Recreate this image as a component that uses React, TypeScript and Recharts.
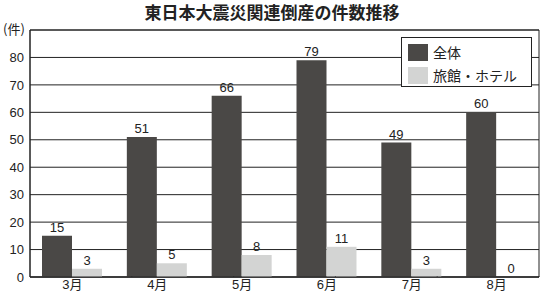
import { BarChart, Bar, XAxis, YAxis, CartesianGrid, LabelList, ReferenceArea, ReferenceLine } from 'recharts'

const months = ['3月', '4月', '5月', '6月', '7月', '8月']
const totalCounts = [15, 51, 66, 79, 49, 60]
const hotelCounts = [3, 5, 8, 11, 3, 0]
const yTicks = [0, 10, 20, 30, 40, 50, 60, 70, 80]
const boundaryTicks = [1, 2, 3, 4, 5]

const TITLE = '東日本大震災関連倒産の件数推移'
const UNIT = '(件)'
const SERIES = [
  { key: 'total', name: '全体', color: '#4a4846' },
  { key: 'hotel', name: '旅館・ホテル', color: '#d3d4d3' },
]

const FONT = "'Liberation Sans', 'Noto Sans CJK JP', sans-serif"
const JP = "'Noto Sans CJK JP', sans-serif"

const data = months.map((m, i) => ({ month: m, total: totalCounts[i], hotel: hotelCounts[i] }))

// value above each bar, always dark
const renderValue = (p: any) => (
  <text
    x={Number(p.x) + Number(p.width) / 2}
    y={Number(p.y) - 4}
    textAnchor="middle"
    fill="#222"
    fontSize={13}
    fontFamily={FONT}
  >
    {p.value}
  </text>
)

function LegendBox() {
  return (
    <div
      style={{
        position: 'absolute',
        left: 401,
        top: 37,
        border: '1px solid #222',
        background: '#fff',
        width: 131,
        height: 50,
        boxSizing: 'border-box',
        padding: '4px 0 0 6px',
        fontFamily: JP,
        fontSize: 14,
        color: '#222',
      }}
    >
      {SERIES.map((s) => (
        <div key={s.key} style={{ display: 'flex', alignItems: 'center', height: 21, marginBottom: 2 }}>
          <span style={{ width: 20, height: 17, background: s.color, display: 'inline-block', marginRight: 5 }} />
          <span style={{ lineHeight: '17px' }}>{s.name}</span>
        </div>
      ))}
    </div>
  )
}

export default function App() {
  return (
    <div style={{ position: 'absolute', left: 0, top: 0, width: 544, height: 294, background: '#fff', fontFamily: FONT }}>
      <BarChart
        width={544}
        height={294}
        data={data}
        margin={{ top: 30, right: 5, bottom: 0, left: 0 }}
        barGap={0}
        barSize={30}
      >
        <CartesianGrid horizontal vertical={false} stroke="#222" strokeWidth={1} />
        <XAxis xAxisId="b" type="number" domain={[0, 6]} hide />
        <XAxis
          dataKey="month"
          height={17}
          axisLine={{ stroke: '#222' }}
          tickLine={false}
          tickSize={0}
          tick={{ fontSize: 13, fill: '#222', fontFamily: FONT }}
          tickMargin={3}
          interval={0}
        />
        <YAxis
          width={30}
          domain={[0, 90]}
          ticks={yTicks}
          axisLine={{ stroke: '#222' }}
          tickLine={false}
          tickSize={0}
          tick={{ fontSize: 13, fill: '#222', fontFamily: FONT }}
          tickMargin={6}
        />
        <ReferenceArea y1={0} y2={90} fill="none" stroke="#222" strokeWidth={1} ifOverflow="visible" />
        {boundaryTicks.map((b) => (
          <ReferenceLine
            key={b}
            xAxisId="b"
            segment={[{ x: b, y: 0 }, { x: b, y: 0.22 }]}
            stroke="#222"
            ifOverflow="visible"
          />
        ))}
        {SERIES.map((s) => (
          <Bar key={s.key} dataKey={s.key} name={s.name} fill={s.color} minPointSize={0.01} isAnimationActive={false}>
            <LabelList dataKey={s.key} content={renderValue} />
          </Bar>
        ))}
      </BarChart>
      <div
        style={{
          position: 'absolute',
          top: 1,
          left: 0,
          width: 544,
          textAlign: 'center',
          fontSize: 17,
          fontWeight: 'bold',
          color: '#222',
          fontFamily: JP,
          lineHeight: '22px',
        }}
      >
        {TITLE}
      </div>
      <div style={{ position: 'absolute', left: 3, top: 20, fontSize: 13, color: '#222', fontFamily: JP, lineHeight: '18px', background: '#fff' }}>
        {UNIT}
      </div>
      <LegendBox />
    </div>
  )
}
